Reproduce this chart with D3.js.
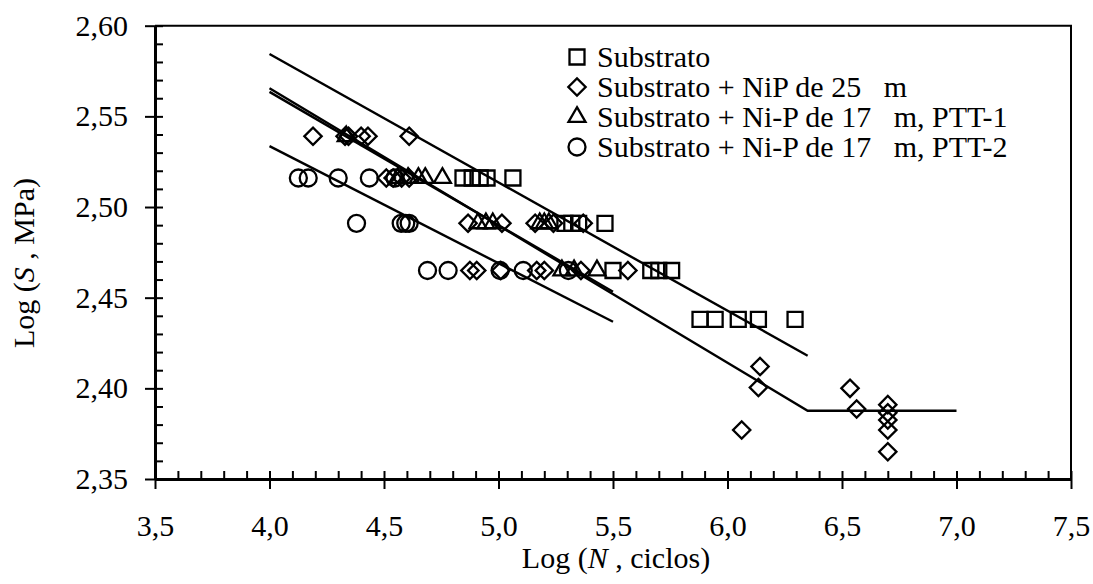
<!DOCTYPE html>
<html><head><meta charset="utf-8">
<script src="https://cdn.jsdelivr.net/npm/d3@7"></script>
<style>
html,body{margin:0;padding:0;background:#fff;}
text{font-family:"Liberation Serif","Times New Roman",serif;fill:#000;}
</style></head>
<body><svg id="c" width="1093" height="584"></svg>
<script>
// ---- data ----
const xTicks = [3.5, 4.0, 4.5, 5.0, 5.5, 6.0, 6.5, 7.0, 7.5];
const yTicks = [2.35, 2.40, 2.45, 2.50, 2.55, 2.60];
const legendLabels = ["Substrato", "Substrato + NiP de 25   m", "Substrato + Ni-P de 17   m, PTT-1", "Substrato + Ni-P de 17   m, PTT-2"];

const substrato = [[4.845,2.516],[4.885,2.516],[4.92,2.516],[4.95,2.516],[5.063,2.516],
  [5.29,2.491],[5.32,2.491],[5.35,2.491],[5.465,2.491],
  [5.50,2.465],[5.665,2.465],[5.70,2.465],[5.756,2.465],
  [5.88,2.438],[5.946,2.438],[6.047,2.438],[6.135,2.438],[6.295,2.438]];
const nip25 = [[4.19,2.539],[4.33,2.539],[4.345,2.539],[4.40,2.539],[4.43,2.539],[4.61,2.539],
  [4.51,2.516],[4.54,2.516],[4.577,2.516],[4.61,2.516],
  [4.867,2.491],[5.015,2.491],[5.16,2.491],[5.24,2.491],[5.37,2.491],
  [4.875,2.465],[4.905,2.465],[5.01,2.465],[5.167,2.465],[5.20,2.465],[5.36,2.465],[5.565,2.465],
  [6.142,2.412],[6.135,2.4005],[6.062,2.377],[6.535,2.400],[6.564,2.3886],
  [6.70,2.391],[6.70,2.3865],[6.70,2.3825],[6.70,2.377],[6.70,2.365]];
const ptt1 = [[4.335,2.539],
  [4.56,2.516],[4.605,2.516],[4.65,2.516],[4.68,2.516],[4.755,2.516],
  [4.91,2.491],[4.945,2.491],[4.975,2.491],[5.18,2.491],[5.20,2.491],[5.22,2.491],
  [5.277,2.465],[5.33,2.465],[5.43,2.465]];
const ptt2 = [[4.126,2.516],[4.169,2.516],[4.30,2.516],[4.436,2.516],[4.548,2.516],
  [4.38,2.491],[4.575,2.491],[4.595,2.491],[4.61,2.491],
  [4.69,2.465],[4.78,2.465],[5.007,2.465],[5.108,2.465],[5.305,2.465]];

const fitSubstrato = [[4.0,2.5844],[6.35,2.418]];
const fitNip25 = [[4.0,2.5655],[6.35,2.3876],[7.0,2.3876]];
const fitPtt1 = [[4.0,2.5635],[5.5,2.4533]];
const fitPtt2 = [[4.0,2.5336],[5.5,2.4367]];

// ---- chart ----
const svg = d3.select("#c");
const L = 155, R = 1071, T = 25.7, B = 479;
const x = d3.scaleLinear().domain([3.5, 7.5]).range([L, R]);
const y = d3.scaleLinear().domain([2.35, 2.60]).range([B, T]);
const FS = 30;

// frame (top/right)
svg.append("path").attr("d", `M${L},${T}H${R}V${B}`).attr("fill","none").attr("stroke","#000").attr("stroke-width",2);

const xMinor = d3.range(35, 76).map(d => d / 10);
const yMinor = d3.range(235, 261).map(d => d / 100);

// y axis
const gyOut = svg.append("g").attr("transform", `translate(${L},0)`)
  .call(d3.axisLeft(y).tickValues(yTicks).tickSize(10).tickSizeOuter(0).tickPadding(17)
    .tickFormat(d => d3.format(".2f")(d).replace(".", ",")));
const gyIn = svg.append("g").attr("transform", `translate(${L},0)`)
  .call(d3.axisRight(y).tickValues(yMinor).tickSize(8).tickSizeOuter(0).tickFormat(""));
// x axis
const gxOut = svg.append("g").attr("transform", `translate(0,${B})`)
  .call(d3.axisBottom(x).tickValues(xTicks).tickSize(10).tickSizeOuter(0).tickPadding(26)
    .tickFormat(d => d3.format(".1f")(d).replace(".", ",")));
const gxIn = svg.append("g").attr("transform", `translate(0,${B})`)
  .call(d3.axisTop(x).tickValues(xMinor).tickSize(8).tickSizeOuter(0).tickFormat(""));

[gyOut, gyIn, gxOut, gxIn].forEach(g => {
  g.select(".domain").attr("stroke", "#000").attr("stroke-width", 3);
  g.selectAll(".tick line").attr("stroke", "#000").attr("stroke-width", 2);
  g.selectAll(".tick text").style("font-size", FS + "px").attr("fill", "#000")
   .style("font-family", '"Liberation Serif","Times New Roman",serif');
});

// axis titles
const yt = svg.append("text").attr("transform", "translate(34,263) rotate(-90)")
  .attr("text-anchor", "middle").style("font-size", FS + "px");
yt.append("tspan").text("Log (");
yt.append("tspan").attr("font-style", "italic").text("S");
yt.append("tspan").text(" , MPa)");
const xt = svg.append("text").attr("x", 616).attr("y", 568)
  .attr("text-anchor", "middle").style("font-size", FS + "px");
xt.append("tspan").text("Log (");
xt.append("tspan").attr("font-style", "italic").text("N");
xt.append("tspan").text(" , ciclos)");

// fit lines
const line = d3.line().x(d => x(d[0])).y(d => y(d[1]));
[fitSubstrato, fitNip25, fitPtt1, fitPtt2].forEach(f => {
  svg.append("path").attr("d", line(f)).attr("fill", "none").attr("stroke", "#000").attr("stroke-width", 2.4);
});

// markers
const symSquare = d3.symbol().type(d3.symbolSquare).size(225)();
const symDiamond = d3.symbol().type(d3.symbolSquare).size(150)();
const symTriangle = d3.symbol().type(d3.symbolTriangle).size(125)();
const symCircle = d3.symbol().type(d3.symbolCircle).size(227)();
const series = [
  {data: substrato, path: symSquare, rot: 0},
  {data: nip25, path: symDiamond, rot: 45},
  {data: ptt1, path: symTriangle, rot: 0},
  {data: ptt2, path: symCircle, rot: 0}
];
series.forEach(s => {
  svg.append("g").selectAll("path").data(s.data).join("path")
    .attr("d", s.path)
    .attr("transform", d => `translate(${x(d[0])},${y(d[1])}) rotate(${s.rot})`)
    .attr("fill", "none").attr("stroke", "#000").attr("stroke-width", 2.3);
});

// legend
const lg = svg.append("g");
series.forEach((s, i) => {
  const cy = 57 + 30 * i;
  lg.append("path").attr("d", s.path)
    .attr("transform", `translate(577,${cy}) rotate(${s.rot})`)
    .attr("fill", "none").attr("stroke", "#000").attr("stroke-width", 2.3);
  lg.append("text").attr("x", 597).attr("y", cy + 10).style("font-size", FS + "px")
    .style("white-space", "pre").attr("xml:space", "preserve").text(legendLabels[i]);
});
</script></body></html>
